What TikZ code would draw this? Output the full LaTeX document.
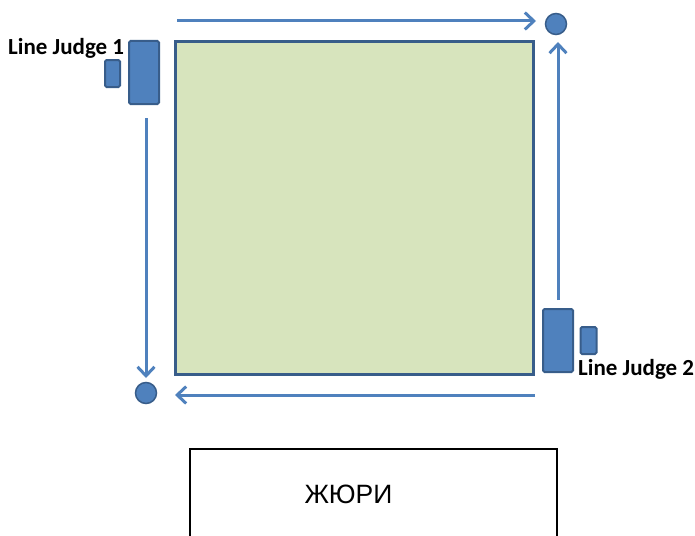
\documentclass[tikz,border=0pt]{standalone}
\usepackage{fontspec}
\setmainfont{Carlito}
\newfontfamily\arialfont{Liberation Sans}
\usetikzlibrary{arrows.meta}
\definecolor{fieldgreen}{HTML}{D7E4BD}
\definecolor{darkblue}{HTML}{385D8A}
\definecolor{midblue}{HTML}{4F81BD}
\tikzset{
  field/.style={draw=darkblue, line width=3pt, fill=fieldgreen, rectangle, inner sep=0pt},
  judgebox/.style={draw=darkblue, line width=2pt, fill=midblue, rectangle, rounded corners=1.5pt, inner sep=0pt},
  flagdot/.style={draw=darkblue, line width=1.5pt, fill=midblue, circle, minimum size=21pt, inner sep=0pt},
  moveline/.style={draw=midblue, line width=3pt, -{Straight Barb[length=9pt,width=17pt,line width=3pt]}},
  judgelabel/.style={font=\bfseries\fontsize{23}{26}\selectfont, inner sep=0pt, text=black},
  jurybox/.style={draw=black, line width=2pt},
}
\begin{document}
\begin{tikzpicture}[x=1pt,y=-1pt]
\useasboundingbox (0,0) rectangle (695,535);
% field
\node[field, minimum width=358pt, minimum height=332pt] (court) at (354,208) {};
% judges
\node[judgebox, minimum width=30pt, minimum height=63pt] (j1big) at (144,72.5) {};
\node[judgebox, minimum width=15pt, minimum height=27pt] (j1small) at (112.5,73.5) {};
\node[judgelabel, anchor=base west] (j1label) at (8,54) {Line Judge 1};
\node[judgebox, minimum width=30pt, minimum height=63pt] (j2big) at (558,340.5) {};
\node[judgebox, minimum width=16pt, minimum height=27pt] (j2small) at (588.5,340.5) {};
\node[judgelabel, anchor=base west] (j2label) at (578,375) {Line Judge 2};
% flags
\node[flagdot] (flagA) at (556,24) {};
\node[flagdot] (flagB) at (146,393) {};
% movement arrows
\coordinate (topstart) at (177,21);
\coordinate (topend) at (536,21);
\coordinate (rightstart) at (558,300);
\coordinate (rightend) at (558,42);
\coordinate (leftstart) at (146,118);
\coordinate (leftend) at (146,378);
\coordinate (botstart) at (535,395);
\coordinate (botend) at (175,395);
\draw[moveline] (topstart) -- (topend);
\draw[moveline] (rightstart) -- (rightend);
\draw[moveline] (leftstart) -- (leftend);
\draw[moveline] (botstart) -- (botend);
% jury
\draw[jurybox] (190,540) -- (190,449) -- (557,449) -- (557,540);
\node[font=\arialfont\fontsize{26.5}{30}\selectfont, inner sep=0pt] (jury) at (348.5,494) {ЖЮРИ};
\end{tikzpicture}
\end{document}
